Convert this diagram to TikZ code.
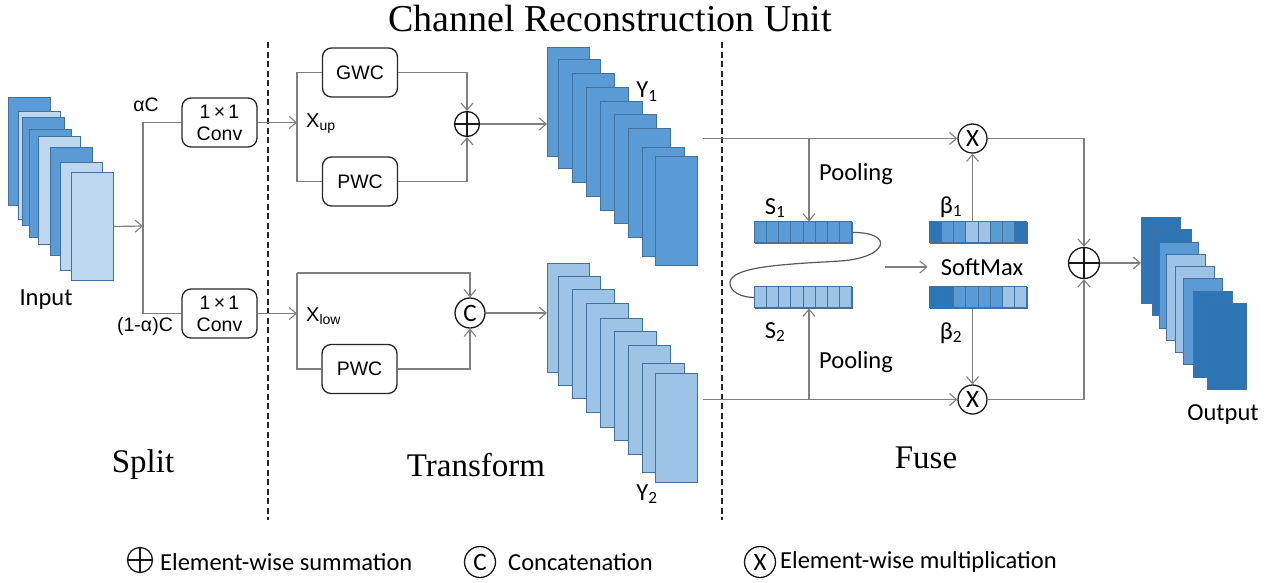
\documentclass[tikz,border=0pt]{standalone}
\usepackage{fontspec}
\setmainfont{Liberation Serif}
\newfontfamily\calfont{Carlito}
\newfontfamily\arifont{Liberation Sans}
\usetikzlibrary{arrows.meta,calc}
\definecolor{dk}{HTML}{2E75B6}
\definecolor{md}{HTML}{5B9BD5}
\definecolor{lt}{HTML}{9DC3E6}
\definecolor{vl}{HTML}{BDD7EE}
\definecolor{bd}{HTML}{41719C}
\definecolor{lnc}{HTML}{7F7F7F}
\begin{document}
\begin{tikzpicture}[x=1pt,y=-1pt,
  ln/.style={draw=lnc, line width=1.2pt},
  arr/.style={ln, -{Straight Barb[length=7pt,width=12pt,line width=1.1pt]}},
  fm/.style={draw=bd, line width=1pt, anchor=north west, inner sep=0pt, minimum width=42pt, minimum height=109pt},
  om/.style={fm, minimum width=39pt, minimum height=86pt},
  rbox/.style={draw=black!85, line width=1.3pt, rounded corners=9pt, minimum width=75pt, minimum height=49pt, inner sep=0pt, align=center, font=\arifont\fontsize{19.5}{22}\selectfont},
  opcirc/.style={circle, draw=black!90, line width=1.3pt, inner sep=0pt, fill=white, font=\calfont\fontsize{25}{27}\selectfont},
  plus/.style={opcirc, path picture={\draw[line width=1.5pt] (path picture bounding box.north) -- (path picture bounding box.south) (path picture bounding box.west) -- (path picture bounding box.east);}},
  cal/.style={font=\calfont\fontsize{24.5}{28}\selectfont, inner sep=0pt},
  ari/.style={font=\arifont\fontsize{19.5}{22}\selectfont, inner sep=0pt},
  ser/.style={font=\fontsize{33}{36}\selectfont, inner sep=0pt},
  bar/.style={draw=bd, line width=1pt, minimum width=97pt, minimum height=21pt, inner sep=0pt},
  cell/.style={draw=bd, line width=0.8pt},
  dsh/.style={draw=black!85, line width=1.5pt, dash pattern=on 6pt off 3.5pt}
]
\useasboundingbox (0,0) rectangle (1274,582);

% title and section labels
\node[ser, font=\fontsize{38}{40}\selectfont] (title) at (610,18) {Channel Reconstruction Unit};
\node[ser] (lsplit) at (143,465) {Split};
\node[ser] (ltrans) at (476,465) {Transform};
\node[ser] (lfuse) at (926,458) {Fuse};

% dashed separators
\coordinate (d1a) at (268,42); \coordinate (d1b) at (268,520);
\coordinate (d2a) at (722,42); \coordinate (d2b) at (722,520);
\draw[dsh] (d1a) -- (d1b);
\draw[dsh] (d2a) -- (d2b);

% input stack
\node[fm, minimum height=108pt, fill=md] (i1) at (8,97) {};
\node[fm, minimum height=108pt, fill=vl] (i2) at (18,111) {};
\node[fm, minimum height=108pt, fill=md] (i3) at (22,117) {};
\node[fm, minimum height=108pt, fill=md] (i4) at (29,129) {};
\node[fm, minimum height=108pt, fill=vl] (i5) at (38,136) {};
\node[fm, minimum height=108pt, fill=md] (i6) at (50,147) {};
\node[fm, minimum height=108pt, fill=vl] (i7) at (60,162) {};
\node[fm, minimum height=108pt, fill=vl] (i8) at (71,172) {};
\node[cal] (linput) at (46,300) {Input};

% split
\coordinate (split) at (143,226);
\node[rbox] (conv1) at (219.5,122.5) {1\,×\,1\\Conv};
\node[rbox] (conv2) at (219.5,313.5) {1\,×\,1\\Conv};
\node[ari] (lac) at (146,105) {αC};
\node[ari] (l1ac) at (145,326) {(1-α)C};
\draw[arr] (i8.east) -- (split);
\draw[ln] (conv1.west) -| (split) |- (conv2.west);

% transform
\coordinate (xu) at (297,122.5);
\coordinate (xl) at (297,313.5);
\coordinate (xlt) at (297,273);
\node[rbox] (gwc) at (360,72.5) {GWC};
\node[rbox] (pwc1) at (360,181.5) {PWC};
\node[rbox] (pwc2) at (359.5,369) {PWC};
\node[plus, minimum size=25pt] (plus1) at (467,124) {};
\node[opcirc, minimum size=30pt] (concat) at (470,313) {C};
\node[ari, font=\arifont\fontsize{20}{22}\selectfont, anchor=west] (lxup) at (306,124) {X\textsubscript{up}};
\node[ari, font=\arifont\fontsize{20}{22}\selectfont, anchor=west] (lxlow) at (306,316) {X\textsubscript{low}};
\draw[arr] (conv1.east) -- (xu);
\draw[arr] (conv2.east) -- (xl);
\draw[ln] (gwc.west) -| (xu) |- (pwc1.west);
\draw[arr] (gwc.east) -| (plus1.north);
\draw[arr] (pwc1.east) -| (plus1.south);
\draw[arr] (xlt) -| (concat.north);
\draw[ln] (xlt) |- (pwc2.west);
\draw[arr] (pwc2.east) -| (concat.south);

% Y1 stack
\node[fm, fill=md] (y1a) at (547,47) {};
\node[fm, fill=md] (y1b) at (558,59) {};
\node[fm, fill=md] (y1c) at (572,73) {};
\node[fm, fill=md] (y1d) at (586,87) {};
\node[fm, fill=md] (y1e) at (600,101) {};
\node[fm, fill=md] (y1f) at (614,114) {};
\node[fm, fill=md] (y1g) at (628,128) {};
\node[fm, fill=md] (y1h) at (642,147) {};
\node[fm, fill=md] (y1i) at (655,156) {};
\node[cal] (ly1) at (647,92) {Y\textsubscript{1}};
% Y2 stack
\node[fm, fill=lt] (y2a) at (547,263) {};
\node[fm, fill=lt] (y2b) at (558,276) {};
\node[fm, fill=lt] (y2c) at (572,289) {};
\node[fm, fill=lt] (y2d) at (586,303) {};
\node[fm, fill=lt] (y2e) at (600,318) {};
\node[fm, fill=lt] (y2f) at (614,331) {};
\node[fm, fill=lt] (y2g) at (628,345) {};
\node[fm, fill=lt] (y2h) at (642,363) {};
\node[fm, fill=lt] (y2i) at (655,373) {};
\node[cal] (ly2) at (647,494) {Y\textsubscript{2}};
\draw[arr] (plus1.east) -- (plus1 -| y1a.west);
\draw[arr] (concat.east) -- (concat -| y2a.west);

% fuse
\coordinate (t0) at (703,138.5);
\coordinate (b0) at (703,399.5);
\coordinate (p1) at (809,138.5);
\coordinate (p2) at (809,399.5);
\node[opcirc, minimum size=29pt] (mul1) at (972.5,138.5) {X};
\node[opcirc, minimum size=29pt] (mul2) at (972.5,399.5) {X};
\node[plus, minimum size=31pt] (add) at (1084,263) {};

\node[bar] (s1) at (803.5,232.5) {};
\node[bar] (s2) at (803.5,297.5) {};
\node[bar] (b1) at (978.5,232.5) {};
\node[bar] (b2) at (978.5,297.5) {};
\foreach \c [count=\i from 0] in {md,md,md,md,md,md,md,md}
  \filldraw[cell, fill=\c] ($(s1.north west)+(\i*12.125,0)$) rectangle +(12.125,21);
\foreach \c [count=\i from 0] in {lt,lt,lt,lt,lt,lt,lt,lt}
  \filldraw[cell, fill=\c] ($(s2.north west)+(\i*12.125,0)$) rectangle +(12.125,21);
\foreach \c [count=\i from 0] in {dk,md,md,lt,lt,md,md,dk}
  \filldraw[cell, fill=\c] ($(b1.north west)+(\i*12.125,0)$) rectangle +(12.125,21);
\foreach \c [count=\i from 0] in {dk,dk,md,md,md,md,lt,lt}
  \filldraw[cell, fill=\c] ($(b2.north west)+(\i*12.125,0)$) rectangle +(12.125,21);

\node[cal] (ls1) at (775,208) {S\textsubscript{1}};
\node[cal] (ls2) at (775,332) {S\textsubscript{2}};
\node[cal] (lb1) at (951,207) {β\textsubscript{1}};
\node[cal] (lb2) at (951,333) {β\textsubscript{2}};
\node[cal] (lpool1) at (856,174) {Pooling};
\node[cal] (lpool2) at (856,362) {Pooling};
\node[cal] (sm) at (982,267) {SoftMax};
\coordinate (sm0) at (885,267);

\draw[arr] (t0) -- (mul1.west);
\draw[arr] (mul1.east) -| (add.north);
\draw[arr] (b0) -- (mul2.west);
\draw[arr] (mul2.east) -| (add.south);
\draw[arr] (p1) -- (p1 |- s1.north);
\draw[arr] (p2) -- (p2 |- s2.south);
\draw[arr] (b1.north -| mul1) -- (mul1.south);
\draw[arr] (b2.south -| mul2) -- (mul2.north);
\draw[arr] (sm0) -- ([xshift=-13pt]sm.west);
\draw[ln, draw=black!65] (s1.east) .. controls (895,232) and (888,258) .. (840,261) .. controls (790,264) and (732,266) .. (730,282) .. controls (729,292) and (742,297.5) .. (s2.west);

% output stack
\node[om, fill=dk] (o1) at (1141,217) {};
\node[om, fill=dk] (o2) at (1152,229) {};
\node[om, fill=md] (o3) at (1159,242) {};
\node[om, fill=lt] (o4) at (1166,254) {};
\node[om, fill=lt] (o5) at (1175,266) {};
\node[om, fill=md] (o6) at (1183,278) {};
\node[om, fill=dk] (o7) at (1193,291) {};
\node[om, fill=dk] (o8) at (1207,303) {};
\node[cal] (loutput) at (1223,415) {Output};
\draw[arr] (add.east) -- (add -| o1.west);

% legend
\node[plus, minimum size=25pt] (lg1) at (140,560) {};
\node[cal, anchor=west] (lg1t) at (160,562) {Element-wise summation};
\node[opcirc, minimum size=31pt] (lg2) at (480,562) {C};
\node[cal, anchor=west] (lg2t) at (508,562) {Concatenation};
\node[opcirc, minimum size=31pt] (lg3) at (760,562) {X};
\node[cal, anchor=west] (lg3t) at (780,562) {Element-wise multiplication};
\end{tikzpicture}
\end{document}
